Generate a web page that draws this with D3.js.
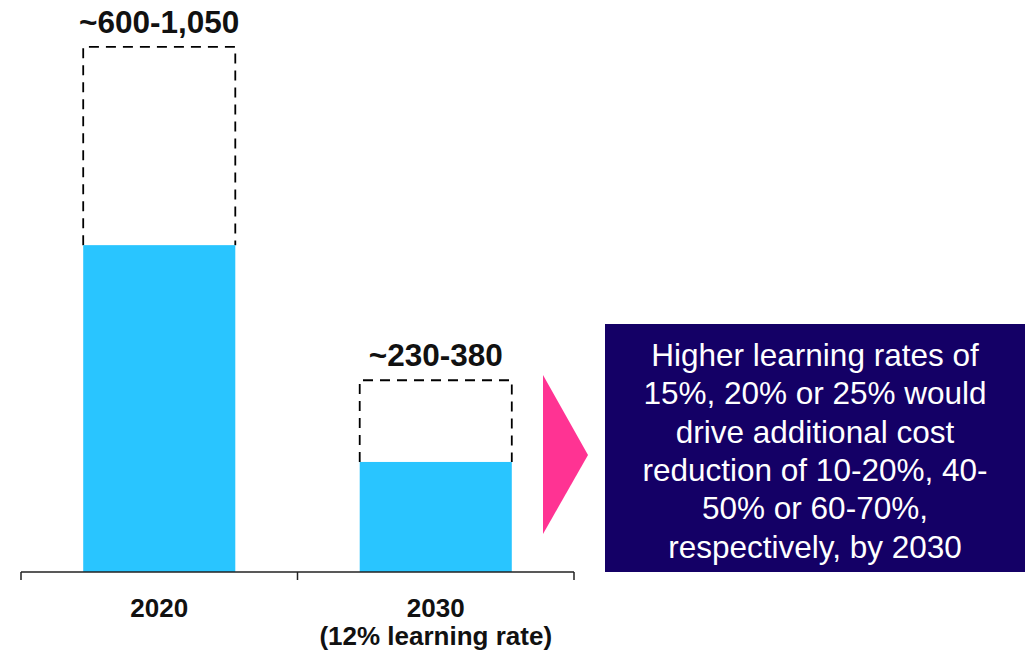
<!DOCTYPE html>
<html>
<head>
<meta charset="utf-8">
<script src="https://cdn.jsdelivr.net/npm/d3@7"></script>
<style>
  html, body { margin: 0; padding: 0; background: #ffffff; }
  svg { display: block; font-family: "Liberation Sans", Arial, sans-serif; }
</style>
</head>
<body>
<svg id="chart" width="1030" height="657"></svg>
<script>
// ---- data ----
const categories = ["2020", "2030"];
const categorySubLabels = ["", "(12% learning rate)"];
const rangeLabels = ["~600-1,050", "~230-380"];
// bar heights and range tops as drawn in the picture (chart units; the picture is not to scale)
const lowValues = [600, 202];
const highValues = [964, 352];
const noteLines = [
  "Higher learning rates of",
  "15%, 20% or 25% would",
  "drive additional cost",
  "reduction of 10-20%, 40-",
  "50% or 60-70%,",
  "respectively, by 2030"
];

// ---- layout ----
const svg = d3.select("#chart");
const axisY = 572;
const x = d3.scaleBand().domain(categories).range([21, 574]).padding(0);
const y = d3.scaleLinear().domain([0, 1050]).range([axisY, 0]);
const barFrac = 0.55;
const bx = d => x(d) + x.bandwidth() * (1 - barFrac) / 2;
const bw = () => x.bandwidth() * barFrac;

const g = svg.append("g");

// dashed range boxes (open at the bottom, sitting on the bar)
g.selectAll("path.range").data(categories).join("path")
  .attr("class", "range")
  .attr("d", (d, i) => {
    const x0 = bx(d), x1 = bx(d) + bw();
    const yt = y(highValues[i]), yb = y(lowValues[i]);
    return `M${x0},${yb} L${x0},${yt} L${x1},${yt} L${x1},${yb}`;
  })
  .attr("fill", "none")
  .attr("stroke", "#000")
  .attr("stroke-width", 1.8)
  .attr("stroke-dasharray", "10,7");

// bars
g.selectAll("rect.bar").data(categories).join("rect")
  .attr("class", "bar")
  .attr("x", d => bx(d))
  .attr("width", bw())
  .attr("y", (d, i) => y(lowValues[i]))
  .attr("height", (d, i) => axisY - y(lowValues[i]))
  .attr("fill", "#29C5FF");

// range labels
g.selectAll("text.rlabel").data(categories).join("text")
  .attr("class", "rlabel")
  .attr("x", d => x(d) + x.bandwidth() / 2)
  .attr("y", (d, i) => y(highValues[i]) - 14)
  .attr("text-anchor", "middle")
  .attr("font-weight", "bold")
  .attr("font-size", 31.5)
  .attr("fill", "#111")
  .text((d, i) => rangeLabels[i]);

// axis
const axis = d3.axisBottom(x).tickSize(0).tickPadding(0);
const ax = svg.append("g").attr("transform", `translate(0,${axisY})`).call(axis);
ax.select(".domain").remove();
ax.selectAll(".tick text").remove();
const edges = [x.range()[0]].concat(categories.map(c => x(c) + x.bandwidth()));
ax.append("line").attr("x1", edges[0]).attr("x2", edges[edges.length - 1])
  .attr("y1", 0).attr("y2", 0).attr("stroke", "#222").attr("stroke-width", 1.5);
ax.selectAll("line.edge").data(edges).join("line").attr("class", "edge")
  .attr("x1", d => d).attr("x2", d => d).attr("y1", 0).attr("y2", 8)
  .attr("stroke", "#222").attr("stroke-width", 1.5);

// category labels
ax.selectAll(".tick").each(function(d, i) {
  const t = d3.select(this).append("text")
    .attr("text-anchor", "middle")
    .attr("font-weight", "bold")
    .attr("font-size", 26)
    .attr("fill", "#111");
  t.append("tspan").attr("x", 0).attr("y", 45).text(d);
  if (categorySubLabels[i]) t.append("tspan").attr("x", 0).attr("y", 73).text(categorySubLabels[i]);
});

// arrow
svg.append("path")
  .attr("d", "M543,375 L588,455 L543,534 Z")
  .attr("fill", "#FF3393");

// note box
svg.append("rect").attr("x", 605).attr("y", 324).attr("width", 420).attr("height", 248)
  .attr("fill", "#140066");
svg.append("g").selectAll("text").data(noteLines).join("text")
  .attr("x", 815)
  .attr("y", (d, i) => 366 + i * 38.3)
  .attr("text-anchor", "middle")
  .attr("font-size", 31.5)
  .attr("fill", "#ffffff")
  .text(d => d);
</script>
</body>
</html>
